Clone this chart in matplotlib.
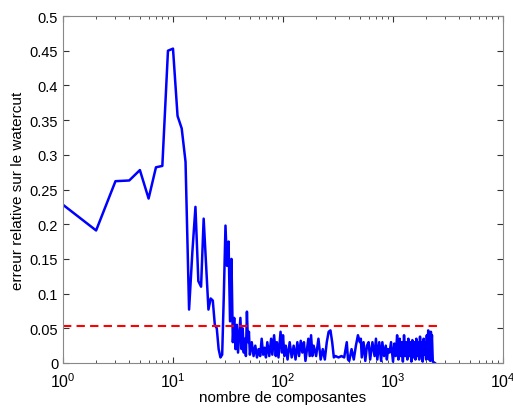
import matplotlib
matplotlib.use('Agg')
import matplotlib.pyplot as plt

plt.rcParams['font.family'] = ['Liberation Sans', 'DejaVu Sans']
plt.rcParams['mathtext.fontset'] = 'custom'
plt.rcParams['mathtext.rm'] = 'Liberation Sans'
plt.rcParams['mathtext.it'] = 'Liberation Sans'

# nombre de composantes / erreur relative
n_head = [1, 2, 3, 4, 5, 6, 7, 8, 9, 10, 11, 12, 13, 14, 15, 16, 17, 18, 19, 20,
          21, 22, 23, 24, 25, 26, 27, 28, 29, 30]
err_head = [0.228, 0.191, 0.262, 0.263, 0.278, 0.237, 0.282, 0.284, 0.450, 0.453,
            0.356, 0.338, 0.290, 0.077, 0.160, 0.225, 0.118, 0.110, 0.208, 0.140,
            0.077, 0.093, 0.090, 0.055, 0.050, 0.020, 0.008, 0.012, 0.100, 0.198]

n_mid = [31, 32, 33, 34, 35, 36, 37, 38, 39, 40, 41, 42, 43, 44, 45, 46, 47, 48, 49, 50,
         52, 54, 56, 58, 60, 62, 64, 66, 68, 70, 72, 75, 78, 80, 83, 86, 88, 91, 95, 98]
err_mid = [0.140, 0.175, 0.060, 0.150, 0.030, 0.065, 0.020, 0.055, 0.015, 0.040,
           0.065, 0.020, 0.050, 0.015, 0.035, 0.010, 0.074, 0.030, 0.045, 0.012,
           0.030, 0.010, 0.025, 0.008, 0.020, 0.010, 0.035, 0.012, 0.022, 0.008,
           0.030, 0.010, 0.035, 0.012, 0.040, 0.010, 0.030, 0.008, 0.045, 0.015]

n_tail = [100, 103, 106, 110, 115, 120, 125, 130, 135, 140, 145, 150, 155, 160, 170,
          175, 180, 185, 190, 200, 210, 220, 230, 240, 250, 260, 270, 280, 290, 300,
          320, 340, 360, 380, 390, 400, 420, 440, 460, 480, 500, 510, 520, 540, 560,
          580, 600, 620, 650, 680, 700, 720, 750, 780, 800, 830, 860, 880, 900, 930,
          960, 1000, 1030, 1060, 1090, 1120, 1150, 1180, 1200, 1230, 1260, 1290, 1320,
          1350, 1380, 1410, 1440, 1470, 1500, 1530, 1560, 1600, 1630, 1660, 1700, 1730,
          1760, 1800, 1830, 1860, 1900, 1930, 1960, 2000, 2030, 2060, 2090, 2120, 2150,
          2180, 2210, 2240, 2260, 2300, 2400]
err_tail = [0.040, 0.010, 0.025, 0.005, 0.030, 0.008, 0.025, 0.005, 0.030, 0.010,
            0.032, 0.015, 0.030, 0.003, 0.035, 0.010, 0.040, 0.010, 0.025, 0.010,
            0.035, 0.005, 0.020, 0.005, 0.030, 0.045, 0.047, 0.030, 0.008, 0.010,
            0.008, 0.010, 0.008, 0.030, 0.005, 0.003, 0.020, 0.005, 0.025, 0.040,
            0.030, 0.035, 0.008, 0.030, 0.003, 0.025, 0.030, 0.005, 0.030, 0.010,
            0.035, 0.005, 0.030, 0.003, 0.030, 0.010, 0.025, 0.005, 0.020, 0.015,
            0.030, 0.002, 0.028, 0.010, 0.040, 0.005, 0.035, 0.010, 0.030, 0.002,
            0.040, 0.010, 0.030, 0.005, 0.035, 0.010, 0.030, 0.002, 0.033, 0.008,
            0.030, 0.005, 0.035, 0.010, 0.030, 0.005, 0.038, 0.010, 0.030, 0.002,
            0.035, 0.012, 0.030, 0.005, 0.040, 0.010, 0.047, 0.005, 0.030, 0.003,
            0.045, 0.030, 0.040, 0.002, 0.000]

seuil = 0.054
seuil_range = [1, 2500]

n_all = n_head + n_mid + n_tail
err_all = err_head + err_mid + err_tail

fig = plt.figure(figsize=(5.13, 4.10), dpi=100)
ax = fig.add_axes([0.1228, 0.1122, 0.8577, 0.8463])

ax.plot(n_all, err_all, color='#0000ff', lw=1.8)
ax.plot(seuil_range, [seuil, seuil], color='#ff0000', ls='--', lw=1.5, dashes=(4, 2.5))

ax.set_xscale('log')
ax.set_xlim(1, 1e4)
ax.set_ylim(0, 0.5)
ax.set_yticks([0, 0.05, 0.1, 0.15, 0.2, 0.25, 0.3, 0.35, 0.4, 0.45, 0.5])
ax.set_yticklabels(['0', '0.05', '0.1', '0.15', '0.2', '0.25', '0.3', '0.35', '0.4', '0.45', '0.5'])

ax.tick_params(which='both', direction='in', top=True, right=True, labelsize=10.5, colors='#333333')
ax.tick_params(axis='both', labelcolor='black')
ax.tick_params(axis='x', which='major', pad=6)
ax.tick_params(axis='x', labelsize=11.5)
ax.tick_params(which='major', length=4)
ax.tick_params(which='minor', length=2.5)
for s in ax.spines.values():
    s.set_color('#888888')
    s.set_linewidth(0.8)

ax.set_xlabel('nombre de composantes', fontsize=11, labelpad=0)
ax.set_ylabel('erreur relative sur le watercut', fontsize=11, labelpad=3)

fig.savefig('out.png', dpi=100)
